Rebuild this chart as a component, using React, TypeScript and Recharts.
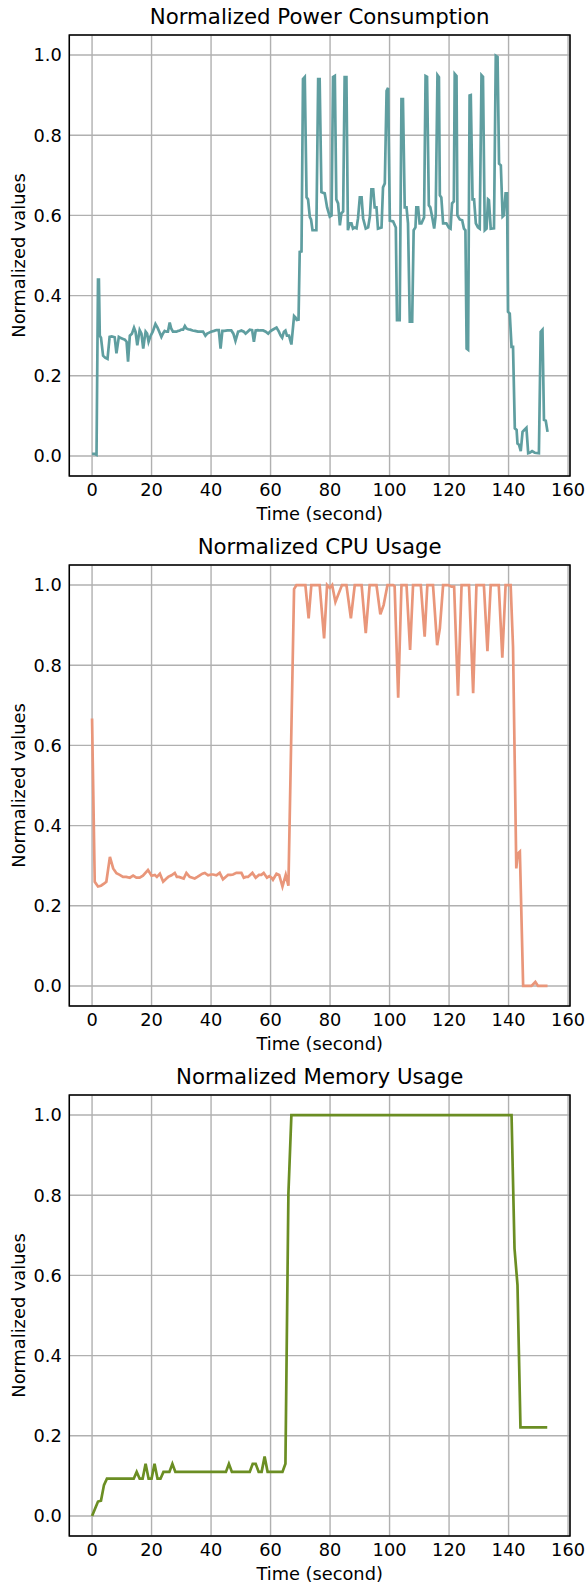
import React from 'react';
import { LineChart, Line, XAxis, YAxis, CartesianGrid, ReferenceArea } from 'recharts';

const xTicks = [0, 20, 40, 60, 80, 100, 120, 140, 160];
const yTicks = [0, 0.2, 0.4, 0.6, 0.8, 1.0];

// [time (s), normalized value]
const powerSeries: [number, number][] = [
  [0, 0.005], [0.5, 0.005], [1.0, 0.005], [1.5, 0.003], [2.0, 0.44], [2.3, 0.44], [2.6, 0.3], [3.0, 0.295],
  [3.7, 0.25], [4.4, 0.245], [5.2, 0.242], [5.9, 0.297], [6.6, 0.298], [7.6, 0.296], [8.2, 0.256], [9.0, 0.297],
  [9.7, 0.294], [10.4, 0.292], [11.0, 0.29], [11.6, 0.285], [12.1, 0.235], [12.7, 0.3], [13.4, 0.305], [14.1, 0.32],
  [14.6, 0.31], [15.2, 0.276], [15.7, 0.3], [16.0, 0.314], [16.6, 0.305], [17.2, 0.268], [17.6, 0.29], [18.0, 0.31],
  [18.5, 0.305], [19.0, 0.285], [19.7, 0.3], [20.4, 0.31], [21.3, 0.329], [22.0, 0.32], [22.6, 0.31], [23.3, 0.297],
  [23.8, 0.305], [24.4, 0.312], [25.0, 0.31], [25.5, 0.31], [26.1, 0.333], [26.6, 0.318], [27.2, 0.31], [27.8, 0.31],
  [28.4, 0.31], [29.0, 0.312], [29.5, 0.313], [30.0, 0.315], [30.6, 0.315], [31.2, 0.324], [31.7, 0.318], [32.3, 0.316],
  [33.0, 0.315], [33.8, 0.313], [34.6, 0.312], [35.6, 0.31], [36.5, 0.31], [37.3, 0.31], [38.1, 0.3], [38.7, 0.305],
  [39.2, 0.307], [40.0, 0.31], [41.0, 0.312], [41.8, 0.314], [42.6, 0.314], [43.2, 0.268], [43.8, 0.312], [44.5, 0.312],
  [45.5, 0.313], [46.2, 0.313], [46.8, 0.313], [47.5, 0.305], [48.2, 0.287], [49.1, 0.31], [49.6, 0.311], [50.2, 0.313],
  [51.0, 0.31], [51.6, 0.305], [52.3, 0.31], [53.0, 0.315], [53.8, 0.314], [54.4, 0.285], [55.0, 0.313], [55.7, 0.314],
  [56.5, 0.313], [57.5, 0.313], [58.4, 0.31], [59.2, 0.305], [59.8, 0.31], [60.3, 0.313], [61.0, 0.316], [62.0, 0.32],
  [62.8, 0.31], [63.4, 0.3], [63.9, 0.295], [64.5, 0.31], [65.0, 0.313], [65.5, 0.3], [66.2, 0.3], [67.0, 0.278],
  [67.9, 0.349], [68.4, 0.345], [68.8, 0.339], [69.4, 0.34], [69.8, 0.509], [70.4, 0.51], [70.9, 0.94], [71.5, 0.945],
  [72.1, 0.645], [72.6, 0.64], [73.2, 0.596], [73.6, 0.59], [74.1, 0.563], [75.4, 0.563], [76.0, 0.94], [76.5, 0.94],
  [77.1, 0.658], [78.2, 0.655], [79.0, 0.62], [79.9, 0.597], [80.5, 0.6], [81.0, 0.945], [81.6, 0.948], [82.1, 0.64],
  [82.7, 0.63], [83.3, 0.575], [83.8, 0.605], [84.4, 0.61], [84.9, 0.945], [85.5, 0.945], [86.0, 0.563], [86.6, 0.58],
  [87.2, 0.58], [87.7, 0.567], [88.3, 0.57], [88.9, 0.568], [89.4, 0.593], [90.0, 0.645], [90.6, 0.645], [91.1, 0.593],
  [92.0, 0.567], [92.8, 0.57], [93.4, 0.598], [93.9, 0.665], [94.5, 0.665], [95.0, 0.62], [95.6, 0.62], [96.1, 0.567],
  [97.3, 0.57], [97.8, 0.67], [98.4, 0.68], [99.0, 0.911], [99.5, 0.918], [100.1, 0.587], [101.2, 0.585], [102.1, 0.57],
  [102.5, 0.339], [103.4, 0.339], [104.0, 0.89], [104.5, 0.89], [105.1, 0.62], [105.7, 0.62], [106.2, 0.58], [106.8, 0.335],
  [107.6, 0.335], [108.1, 0.563], [108.7, 0.57], [109.0, 0.62], [109.6, 0.62], [110.1, 0.58], [110.7, 0.58], [111.3, 0.59],
  [111.6, 0.595], [112.1, 0.948], [112.6, 0.946], [113.2, 0.625], [113.7, 0.62], [114.4, 0.593], [115.0, 0.567], [115.5, 0.6],
  [116.1, 0.95], [116.6, 0.945], [116.9, 0.65], [117.4, 0.645], [118.0, 0.58], [119.1, 0.58], [119.9, 0.57], [120.5, 0.567],
  [121.0, 0.63], [121.6, 0.635], [121.9, 0.953], [122.5, 0.948], [122.8, 0.6], [123.6, 0.59], [124.4, 0.588], [125.0, 0.567],
  [125.5, 0.563], [125.9, 0.268], [126.4, 0.265], [126.9, 0.899], [127.3, 0.9], [127.9, 0.64], [128.4, 0.64], [129.0, 0.58],
  [129.7, 0.57], [130.3, 0.567], [130.9, 0.95], [131.4, 0.946], [132.0, 0.563], [132.6, 0.567], [133.1, 0.64], [133.4, 0.638],
  [134.0, 0.567], [135.1, 0.568], [135.7, 0.998], [136.3, 0.995], [136.8, 0.729], [137.4, 0.725], [138.0, 0.597], [138.4, 0.6],
  [139.0, 0.655], [139.5, 0.655], [139.8, 0.36], [140.4, 0.355], [141.0, 0.272], [141.5, 0.272], [142.1, 0.069], [142.7, 0.065],
  [143.0, 0.031], [143.5, 0.028], [144.1, 0.012], [144.7, 0.06], [145.2, 0.064], [146.0, 0.07], [146.6, 0.007], [147.1, 0.008],
  [147.9, 0.012], [148.8, 0.008], [150.2, 0.007], [150.8, 0.31], [151.4, 0.315], [151.9, 0.09], [152.5, 0.088], [153.1, 0.06],
];

const cpuSeries: [number, number][] = [
  [0, 0.667], [0.9, 0.26], [2.0, 0.248], [3.0, 0.25], [4.0, 0.255], [4.8, 0.26], [6.0, 0.322], [7.1, 0.293],
  [8.2, 0.281], [9.3, 0.277], [10.4, 0.272], [11.5, 0.272], [12.7, 0.27], [13.8, 0.275], [14.9, 0.27], [16.0, 0.27],
  [17.1, 0.275], [18.8, 0.289], [20.0, 0.275], [21.1, 0.277], [21.8, 0.272], [22.8, 0.28], [23.9, 0.26], [25.0, 0.268],
  [25.6, 0.272], [26.7, 0.276], [27.8, 0.282], [28.5, 0.272], [29.2, 0.272], [30.8, 0.268], [31.7, 0.282], [32.8, 0.272],
  [33.7, 0.27], [34.5, 0.268], [35.4, 0.272], [36.2, 0.276], [37.1, 0.28], [37.9, 0.282], [39.0, 0.276], [40.0, 0.278],
  [40.7, 0.278], [41.8, 0.276], [42.9, 0.282], [44.0, 0.266], [44.9, 0.272], [45.7, 0.277], [46.6, 0.277], [47.4, 0.278],
  [48.5, 0.282], [49.4, 0.282], [50.2, 0.282], [51.0, 0.27], [51.7, 0.272], [52.4, 0.272], [53.9, 0.282], [55.0, 0.27],
  [56.1, 0.277], [56.9, 0.277], [57.7, 0.282], [58.8, 0.27], [59.6, 0.274], [60.3, 0.27], [60.8, 0.265], [62.0, 0.28],
  [62.9, 0.277], [64.0, 0.248], [65.1, 0.277], [66.0, 0.25], [67.9, 0.99], [68.7, 1.0], [71.7, 1.0], [72.8, 0.917],
  [73.7, 1.0], [76.5, 1.0], [78.0, 0.867], [79.0, 1.0], [79.9, 0.993], [80.7, 1.0], [81.8, 0.958], [84.0, 1.0],
  [85.5, 1.0], [87.0, 0.917], [88.3, 1.0], [90.6, 1.0], [92.0, 0.88], [93.3, 1.0], [95.6, 1.0], [96.9, 0.927],
  [98.0, 0.95], [99.3, 1.0], [101.2, 1.0], [101.7, 0.997], [102.9, 0.719], [104.0, 1.0], [105.7, 1.0], [106.9, 0.838],
  [107.9, 1.0], [110.5, 1.0], [111.8, 0.871], [112.7, 1.0], [114.6, 1.0], [116.0, 0.85], [116.9, 0.892], [118.0, 1.0],
  [119.7, 1.0], [120.8, 0.996], [121.7, 0.996], [123.0, 0.724], [124.2, 1.0], [126.7, 1.0], [128.1, 0.73], [129.2, 1.0],
  [131.7, 1.0], [132.9, 0.835], [134.0, 1.0], [136.7, 1.0], [137.9, 0.819], [139.0, 1.0], [140.7, 1.0], [141.5, 0.846],
  [142.6, 0.293], [143.1, 0.33], [143.8, 0.335], [144.9, 0.0], [147.7, 0.0], [149.0, 0.01], [149.9, 0.0], [153.1, 0.0],
];

const memorySeries: [number, number][] = [
  [0, 0.0], [1, 0.018], [2, 0.036], [3, 0.038], [4, 0.077], [5, 0.093], [14, 0.093], [15, 0.11],
  [16, 0.093], [17, 0.093], [18, 0.13], [19, 0.093], [20, 0.093], [21, 0.13], [22, 0.093], [23, 0.093],
  [24, 0.11], [25, 0.11], [26, 0.11], [27, 0.13], [28, 0.11], [45, 0.11], [46, 0.13], [47, 0.11],
  [53, 0.11], [54, 0.13], [55, 0.13], [56, 0.11], [57, 0.11], [58, 0.148], [59, 0.11], [64, 0.11],
  [65, 0.13], [66, 0.804], [67, 1.0], [141, 1.0], [142, 0.667], [143, 0.576], [144, 0.221], [153, 0.221],
];

const FONT = 'DejaVu Sans, sans-serif';
const X_MIN = -7.65;
const X_MAX = 160.65;
const Y_MIN = -0.05;
const Y_MAX = 1.05;
const PLOT_LEFT = 69.3;
const PLOT_RIGHT = 570;
const PLOT_TOP = 35;
const PLOT_H = 441;

interface PanelProps {
  title: string;
  series: [number, number][];
  color: string;
  top: number;
}

function Panel({ title, series, color, top }: PanelProps) {
  const data = series.map(([t, v]) => ({ t, v }));
  const midX = (PLOT_LEFT + PLOT_RIGHT) / 2;
  return (
    <div style={{ position: 'absolute', left: 0, top, width: 587, height: 530 }}>
      <div
        style={{
          position: 'absolute',
          left: PLOT_LEFT,
          width: PLOT_RIGHT - PLOT_LEFT,
          top: 0,
          height: 34,
          lineHeight: '34px',
          textAlign: 'center',
          fontSize: 21.3,
          color: '#000',
        }}
      >
        {title}
      </div>
      <LineChart
        width={587}
        height={530}
        data={data}
        margin={{ top: PLOT_TOP, right: 587 - PLOT_RIGHT, bottom: 0, left: 0 }}
      >
        <CartesianGrid stroke="#b0b0b0" strokeWidth={1.4} />
        <XAxis
          dataKey="t"
          type="number"
          domain={[X_MIN, X_MAX]}
          allowDataOverflow
          ticks={xTicks}
          height={530 - PLOT_TOP - PLOT_H}
          axisLine={false}
          tickLine={false}
          tickSize={0}
          tickMargin={7.5}
          tick={{ fill: '#000', fontSize: 17.8, fontFamily: FONT }}
          label={() => (
            <text
              x={midX}
              y={PLOT_TOP + PLOT_H + 37}
              textAnchor="middle"
              dominantBaseline="central"
              fontSize={17.8}
              fontFamily={FONT}
              fill="#000"
            >
              Time (second)
            </text>
          )}
        />
        <YAxis
          type="number"
          domain={[Y_MIN, Y_MAX]}
          allowDataOverflow
          ticks={yTicks}
          width={PLOT_LEFT}
          axisLine={false}
          tickLine={false}
          tickSize={0}
          tickMargin={7.5}
          tickFormatter={(v: number) => v.toFixed(1)}
          tick={{ fill: '#000', fontSize: 17.8, fontFamily: FONT }}
          label={() => (
            <text
              x={18}
              y={PLOT_TOP + PLOT_H / 2}
              transform={`rotate(-90 18 ${PLOT_TOP + PLOT_H / 2})`}
              textAnchor="middle"
              dominantBaseline="central"
              fontSize={17.8}
              fontFamily={FONT}
              fill="#000"
            >
              Normalized values
            </text>
          )}
        />
        <Line
          dataKey="v"
          type="linear"
          stroke={color}
          strokeWidth={2.7}
          dot={false}
          activeDot={false}
          isAnimationActive={false}
        />
        <ReferenceArea
          x1={X_MIN}
          x2={X_MAX}
          y1={Y_MIN}
          y2={Y_MAX}
          fill="none"
          fillOpacity={0}
          stroke="#000"
          strokeWidth={1.5}
          ifOverflow="visible"
        />
      </LineChart>
    </div>
  );
}

export default function App() {
  return (
    <div
      style={{
        position: 'absolute',
        left: 0,
        top: 0,
        width: 587,
        height: 1583,
        overflow: 'hidden',
        background: '#fff',
        fontFamily: FONT,
      }}
    >
      <Panel title="Normalized Power Consumption" series={powerSeries} color="#5F9EA0" top={0} />
      <Panel title="Normalized CPU Usage" series={cpuSeries} color="#E9967A" top={530} />
      <Panel title="Normalized Memory Usage" series={memorySeries} color="#6B8E23" top={1060} />
    </div>
  );
}
